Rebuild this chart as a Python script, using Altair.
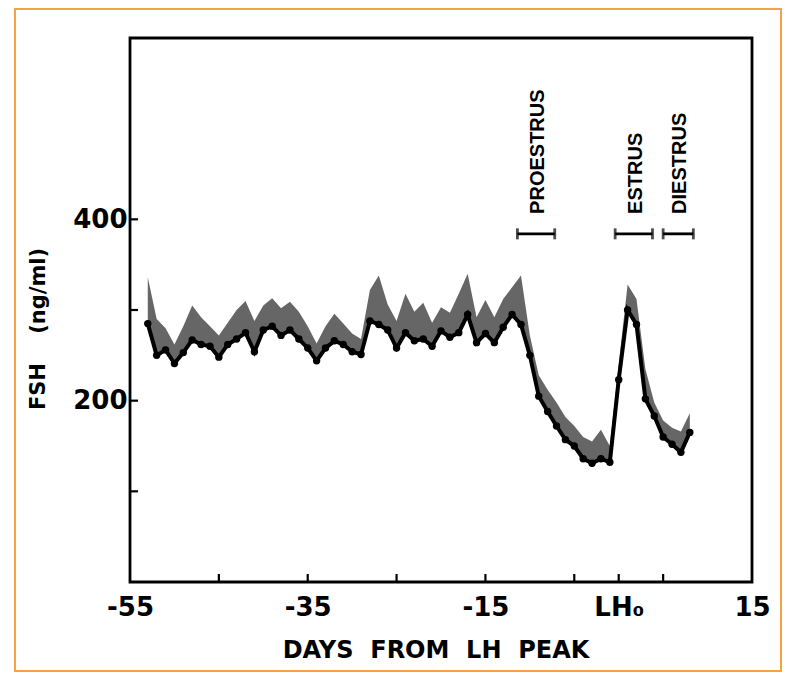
import altair as alt
import pandas as pd

# ---- data ----
days = list(range(-53, 9))
fsh_mean = [285, 250, 256, 241, 253, 267, 262, 260, 248, 262,
            268, 275, 254, 278, 282, 272, 278, 268, 258, 244,
            258, 266, 262, 254, 251, 288, 284, 278, 258, 275,
            266, 268, 260, 277, 270, 275, 295, 264, 274, 264,
            281, 295, 284, 250, 205, 188, 172, 157, 150, 136,
            131, 136, 132, 223, 300, 284, 202, 183, 160, 152,
            143, 165]
fsh_upper = [336, 290, 280, 262, 282, 305, 292, 282, 272, 286,
             300, 310, 288, 305, 313, 302, 309, 298, 282, 263,
             282, 296, 285, 274, 268, 322, 338, 306, 288, 318,
             298, 308, 286, 303, 297, 318, 340, 292, 311, 292,
             312, 325, 338, 272, 228, 212, 198, 182, 172, 160,
             155, 168, 150, 240, 328, 312, 235, 198, 178, 170,
             166, 186]

phase_names = ["PROESTRUS", "ESTRUS", "DIESTRUS"]
phase_start = [-11.4, -0.4, 5.0]
phase_end = [-7.2, 3.8, 8.4]
PHASE_LEVEL = 384
LABEL_LEVEL = 406

x_tick_values = [-45, -35, -25, -15, -5, 0, 5]
y_tick_values = [100, 200, 300, 400]
x_label_values = [-55, -35, -15, 0, 15]
y_label_values = [200, 400]

x_title = "DAYS\u00a0\u00a0FROM\u00a0\u00a0LH\u00a0\u00a0PEAK"
y_title = "FSH\u00a0\u00a0\u00a0\u00a0(ng/ml)"

# ---- tables ----
df = pd.DataFrame({"day": days, "mean": fsh_mean, "upper": fsh_upper})
phases = pd.DataFrame({"name": phase_names, "start": phase_start, "end": phase_end})
xt = pd.DataFrame({"v": x_tick_values})
yt = pd.DataFrame({"v": y_tick_values})
one = pd.DataFrame({"a": [0]})

xs = alt.Scale(domain=[-55, 15], nice=False, zero=False)
ys = alt.Scale(domain=[0, 600], nice=False, zero=False)

x_axis = alt.Axis(values=x_label_values, labelExpr="datum.value == 0 ? 'LH₀' : toString(datum.value)",
                  domain=False, ticks=False, tickSize=0, grid=False, labelPadding=12,
                  labelFlush=False, labelOverlap=False, labelFont="DejaVu Sans",
                  labelFontWeight="bold", labelFontSize=26, labelColor="black")
y_axis = alt.Axis(values=y_label_values, domain=False, ticks=False, tickSize=0, grid=False,
                  labelPadding=3, labelOverlap=False, labelFont="DejaVu Sans",
                  labelFontWeight="bold", labelFontSize=26, labelColor="black")


def X(field):
    return alt.X(field, type="quantitative", scale=xs, axis=x_axis, title=None)


def Y(field):
    return alt.Y(field, type="quantitative", scale=ys, axis=y_axis, title=None)


base = alt.Chart(df)

band = base.mark_area(color="#666666", opacity=1).encode(
    x=X("day"), y=Y("upper"), y2="mean:Q",
)
line = base.mark_line(color="black", strokeWidth=4).encode(x=X("day"), y=Y("mean"))
pts = base.mark_circle(color="black", size=55, opacity=1).encode(x=X("day"), y=Y("mean"))

xticks = alt.Chart(xt).mark_rule(color="black", strokeWidth=2.2).encode(
    x=X("v"), y=alt.value(544), y2=alt.value(536),
)
yticks = alt.Chart(yt).mark_rule(color="black", strokeWidth=2.2).encode(
    y=Y("v"), x=alt.value(0), x2=alt.value(8),
)

pbase = alt.Chart(phases).transform_calculate(
    lvl=str(PHASE_LEVEL), lab=str(LABEL_LEVEL), mid="(datum.start + datum.end) / 2 + 0.2"
)
pbar = pbase.mark_rule(color="black", strokeWidth=2.8).encode(
    x=X("start"), x2="end:Q", y=Y("lvl"),
)
pcap1 = pbase.mark_tick(color="black", orient="vertical", size=11, thickness=2.8).encode(
    x=X("start"), y=Y("lvl"),
)
pcap2 = pbase.mark_tick(color="black", orient="vertical", size=11, thickness=2.8).encode(
    x=X("end"), y=Y("lvl"),
)
ptext = pbase.mark_text(angle=270, align="left", baseline="middle", font="Liberation Sans",
                        fontWeight="bold", fontSize=20, color="black").encode(
    x=X("mid"), y=Y("lab"), text="name:N",
)

xtitle = alt.Chart(one).mark_text(font="DejaVu Sans", fontWeight="bold", fontSize=24, color="black",
                                  align="center", baseline="middle").encode(
    x=alt.value(306), y=alt.value(613), text=alt.value(x_title))
ytitle = alt.Chart(one).mark_text(font="DejaVu Sans", fontWeight="bold", fontSize=21, color="black",
                                  angle=270, align="center", baseline="middle").encode(
    x=alt.value(-91), y=alt.value(291), text=alt.value(y_title))

border = alt.Chart(one).mark_rect(fillOpacity=0, stroke="#f4a340", strokeWidth=2).encode(
    x=alt.value(-115), x2=alt.value(651), y=alt.value(-29), y2=alt.value(633))

chart = alt.layer(
    band, line, pts, xticks, yticks, pbar, pcap1, pcap2, ptext, xtitle, ytitle, border
).properties(
    width=622, height=544,
    autosize=alt.AutoSizeParams(type="none"),
    padding={"left": 122, "top": 30, "right": 30, "bottom": 90},
    background="white",
).configure_view(
    stroke="black", strokeWidth=2.8
)

chart.save("out.html", embed_options={"renderer": "svg", "actions": False})
